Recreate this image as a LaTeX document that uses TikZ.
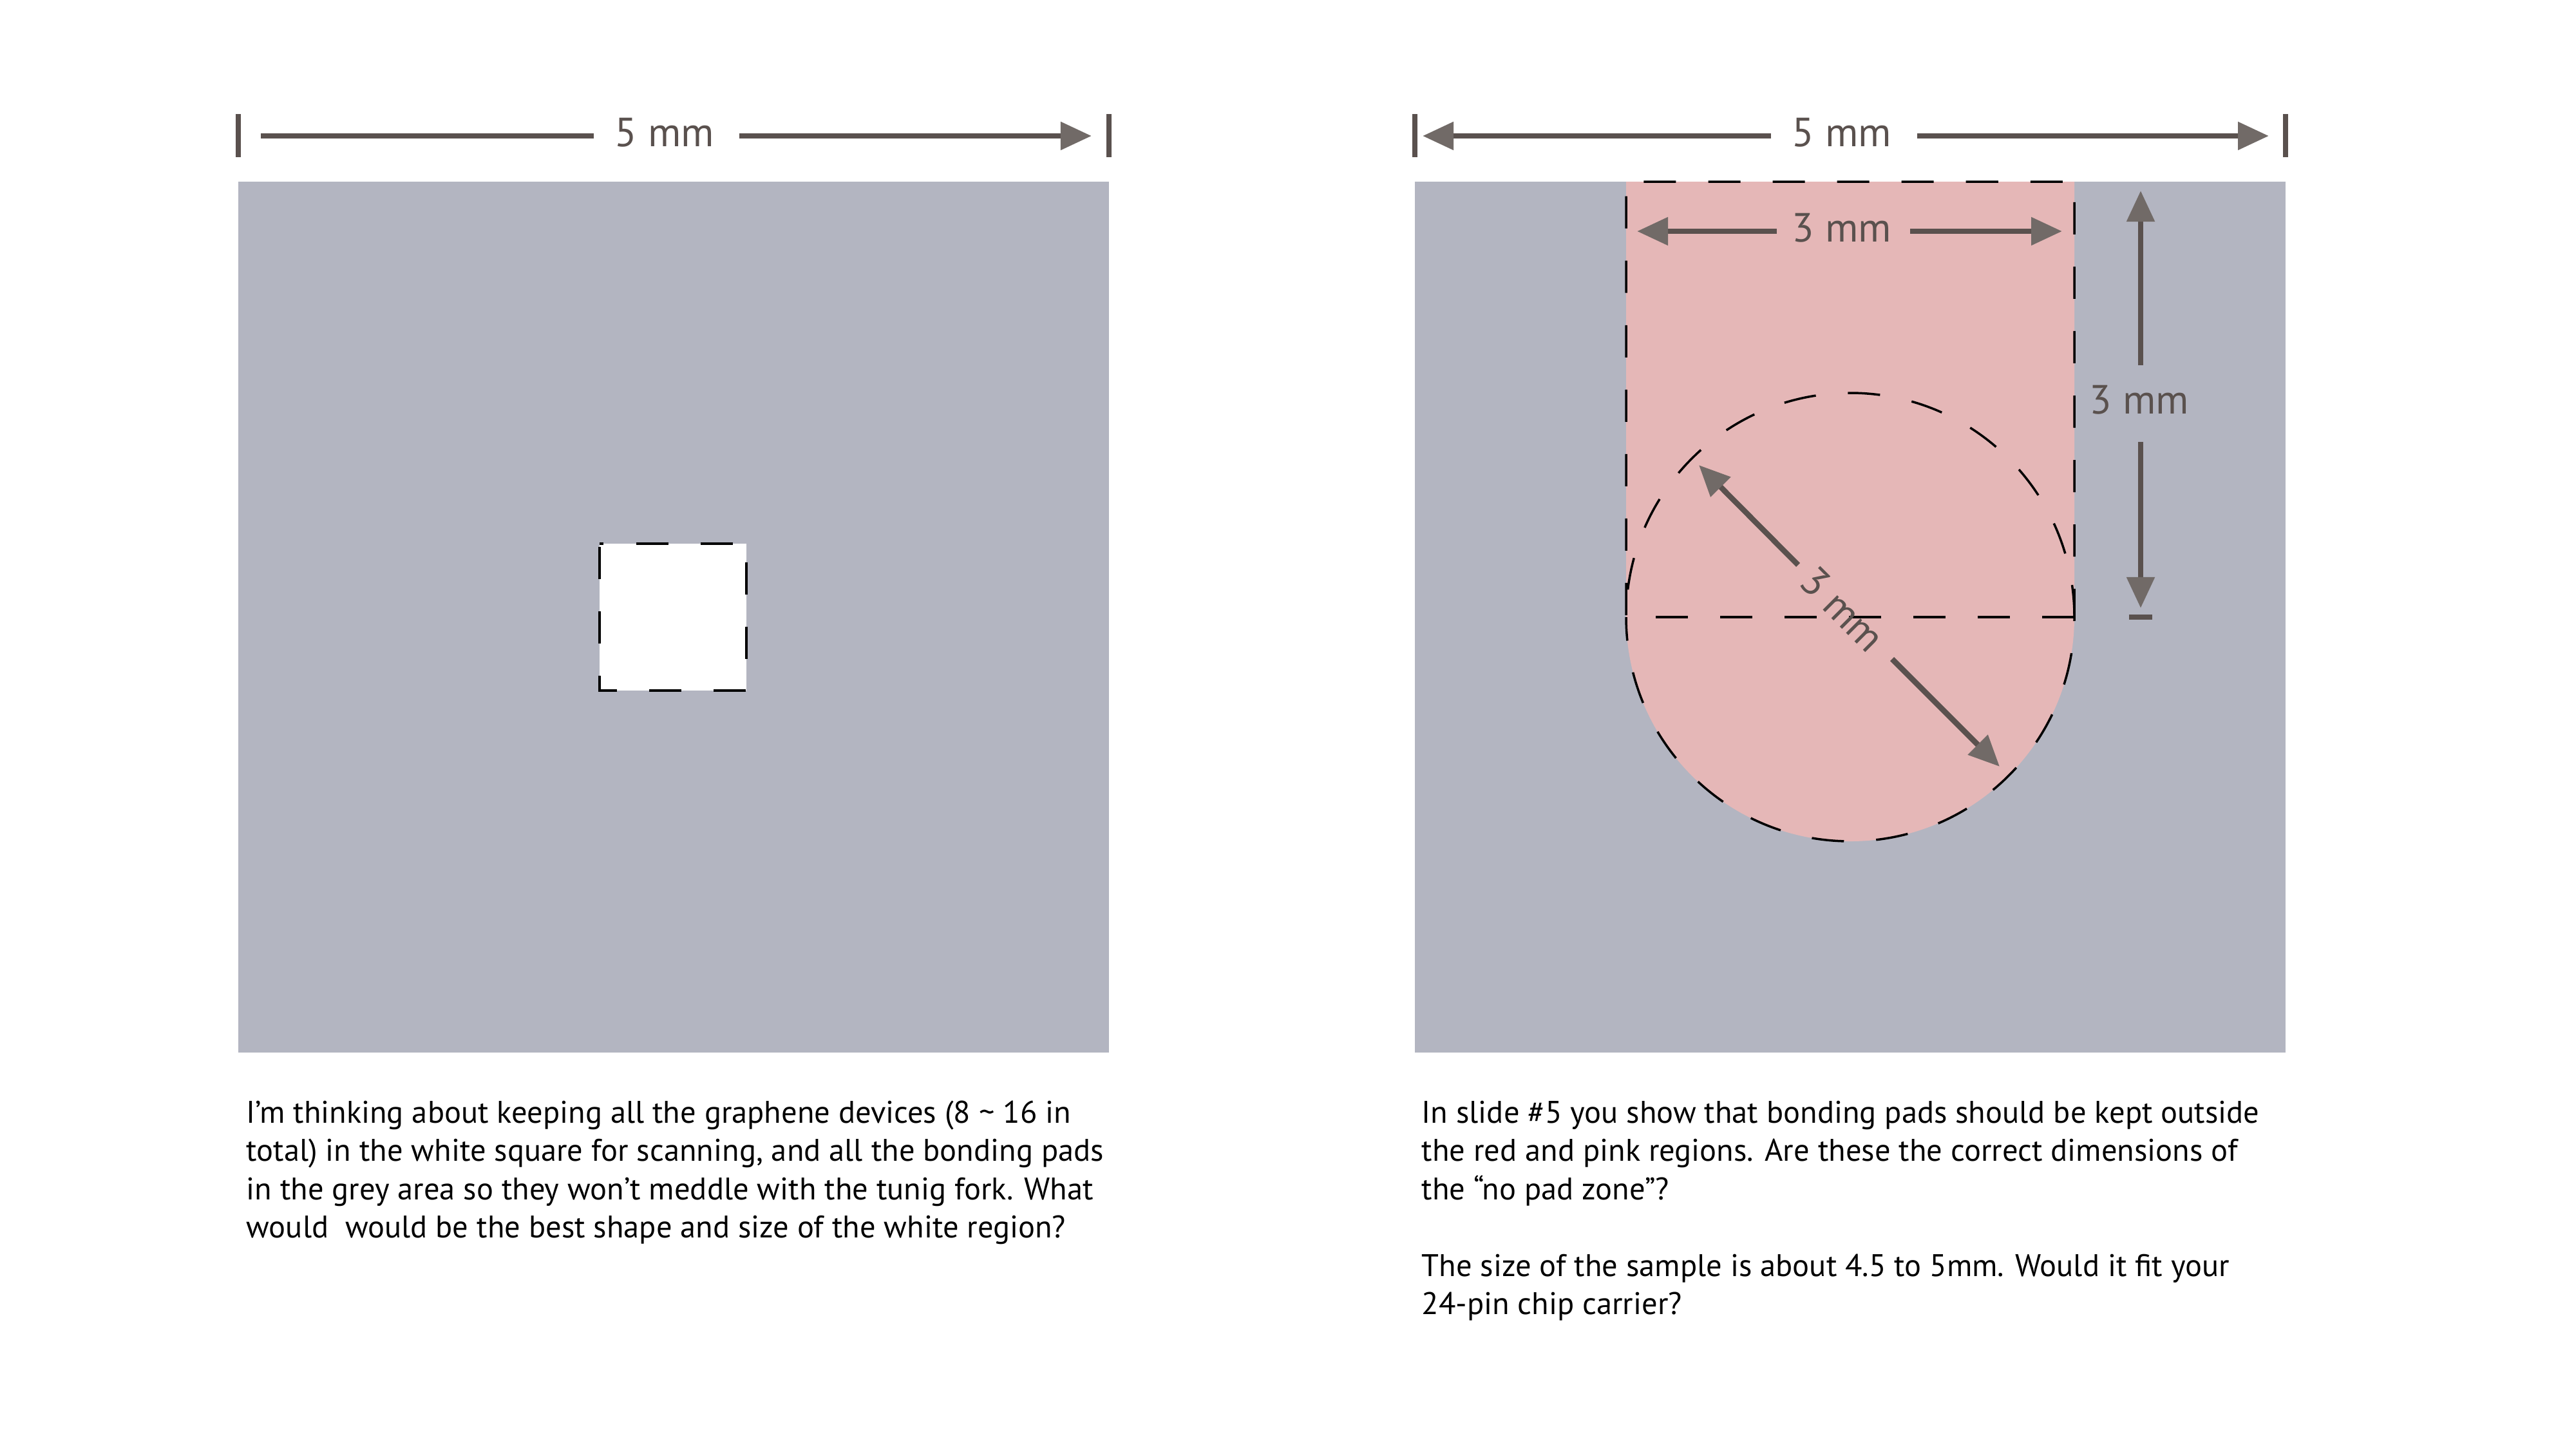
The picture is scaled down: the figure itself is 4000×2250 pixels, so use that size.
\documentclass[tikz,border=0pt]{standalone}
\usepackage{fontspec}
\setmainfont{PT Sans}
\usetikzlibrary{arrows.meta}
\definecolor{greyfill}{HTML}{B3B5C1}
\definecolor{pinkfill}{HTML}{E5B7B7}
\definecolor{dimc}{HTML}{5A514E}
\definecolor{headc}{HTML}{716A67}
\begin{document}
\begin{tikzpicture}[x=0.01cm,y=-0.01cm,
  dimline/.style={draw=dimc,line width=0.085cm},
  dimarrow/.style={dimline,-{Triangle[length=0.48cm,width=0.42cm,fill=headc,color=headc]}},
  tickmark/.style={draw=dimc,line width=0.075cm},
  dimlabel/.style={text=dimc,font=\fontsize{18pt}{20pt}\selectfont,inner sep=0pt},
  dashedge/.style={draw=black,line width=0.035cm,dash pattern=on 0.5cm off 0.5cm},
  para/.style={anchor=base west,inner sep=0pt,font=\fontsize{13.8pt}{16.8pt}\selectfont}]
\fill[white] (0,0) rectangle (4000,2250);
\useasboundingbox (0,0) rectangle (4000,2250);
% ---------- left panel ----------
\fill[greyfill] (370,282) rectangle (1722,1634);
\fill[white] (931,844) rectangle (1159,1072);
\draw[dashedge,dash phase=0.95cm] (931,844) -- (931,1072) -- (1159,1072) -- (1159,844) -- cycle;
\coordinate (lt1a) at (370,177); \coordinate (lt1b) at (370,244);
\coordinate (lt2a) at (1722,177); \coordinate (lt2b) at (1722,244);
\draw[tickmark] (lt1a) -- (lt1b);
\draw[tickmark] (lt2a) -- (lt2b);
\node[dimlabel,anchor=base] (w5a) at (1032,227) {5 mm};
\coordinate (la1) at (922,211); \coordinate (la2) at (405,211);
\coordinate (la3) at (1148,211); \coordinate (la4) at (1695,211);
\draw[dimline] (la1) -- (la2);
\draw[dimarrow] (la3) -- (la4);
% ---------- right panel ----------
\fill[greyfill] (2197,282) rectangle (3549,1634);
\fill[pinkfill] (2525,282) -- (3221,282) -- (3221,958) arc[start angle=0,end angle=180,radius=348] -- cycle;
\draw[dashedge,dash phase=0.97cm] (2525,958) -- (2525,282) -- (3221,282) -- (3221,958) arc[start angle=0,end angle=180,radius=348];
\draw[dashedge] (3221,958) arc[start angle=0,end angle=-180,radius=348];
\draw[dashedge] (3221,958) -- (2525,958);
\coordinate (rt1a) at (2197,177); \coordinate (rt1b) at (2197,244);
\coordinate (rt2a) at (3549,177); \coordinate (rt2b) at (3549,244);
\draw[tickmark] (rt1a) -- (rt1b);
\draw[tickmark] (rt2a) -- (rt2b);
\node[dimlabel,anchor=base] (w5b) at (2860,227) {5 mm};
\coordinate (ra1) at (2750,211); \coordinate (ra2) at (2209,211);
\coordinate (ra3) at (2977,211); \coordinate (ra4) at (3523,211);
\draw[dimarrow] (ra1) -- (ra2);
\draw[dimarrow] (ra3) -- (ra4);
% horizontal 3 mm
\node[dimlabel,anchor=base] (w3h) at (2860,375) {3 mm};
\coordinate (ha1) at (2759,359); \coordinate (ha2) at (2542,359);
\coordinate (ha3) at (2966,359); \coordinate (ha4) at (3202,359);
\draw[dimarrow] (ha1) -- (ha2);
\draw[dimarrow] (ha3) -- (ha4);
% vertical 3 mm
\node[dimlabel,anchor=base] (w3v) at (3322,642) {3 mm};
\coordinate (va1) at (3324,567); \coordinate (va2) at (3324,296);
\coordinate (va3) at (3324,686); \coordinate (va4) at (3324,944);
\draw[dimarrow] (va1) -- (va2);
\draw[dimarrow] (va3) -- (va4);
\coordinate (vt1) at (3306,958); \coordinate (vt2) at (3342,958);
\draw[draw=dimc,line width=0.086cm] (vt1) -- (vt2);
% diagonal 3 mm
\node[dimlabel,rotate=-45] (w3d) at (2861,946) {3 mm};
\coordinate (da1) at (2792,877); \coordinate (da2) at (2638,722);
\coordinate (da3) at (2938,1023); \coordinate (da4) at (3105,1190);
\draw[dimarrow] (da1) -- (da2);
\draw[dimarrow] (da3) -- (da4);
% ---------- texts ----------
\node[para] (pl1) at (382,1743) {I’m thinking about keeping all the graphene devices (8 \textasciitilde{} 16 in};
\node[para] (pl2) at (382,1802) {total) in the white square for scanning, and all the bonding pads};
\node[para] (pl3) at (382,1862) {in the grey area so they won’t meddle with the tunig fork. What};
\node[para] (pl4) at (382,1921) {would~ would be the best shape and size of the white region?};
\node[para] (pr1) at (2207,1743) {In slide \#5 you show that bonding pads should be kept outside};
\node[para] (pr2) at (2207,1802) {the red and pink regions. Are these the correct dimensions of};
\node[para] (pr3) at (2207,1862) {the “no pad zone”?};
\node[para] (pr4) at (2207,1981) {The size of the sample is about 4.5 to 5mm. Would it fit your};
\node[para] (pr5) at (2207,2040) {24-pin chip carrier?};
\end{tikzpicture}
\end{document}
